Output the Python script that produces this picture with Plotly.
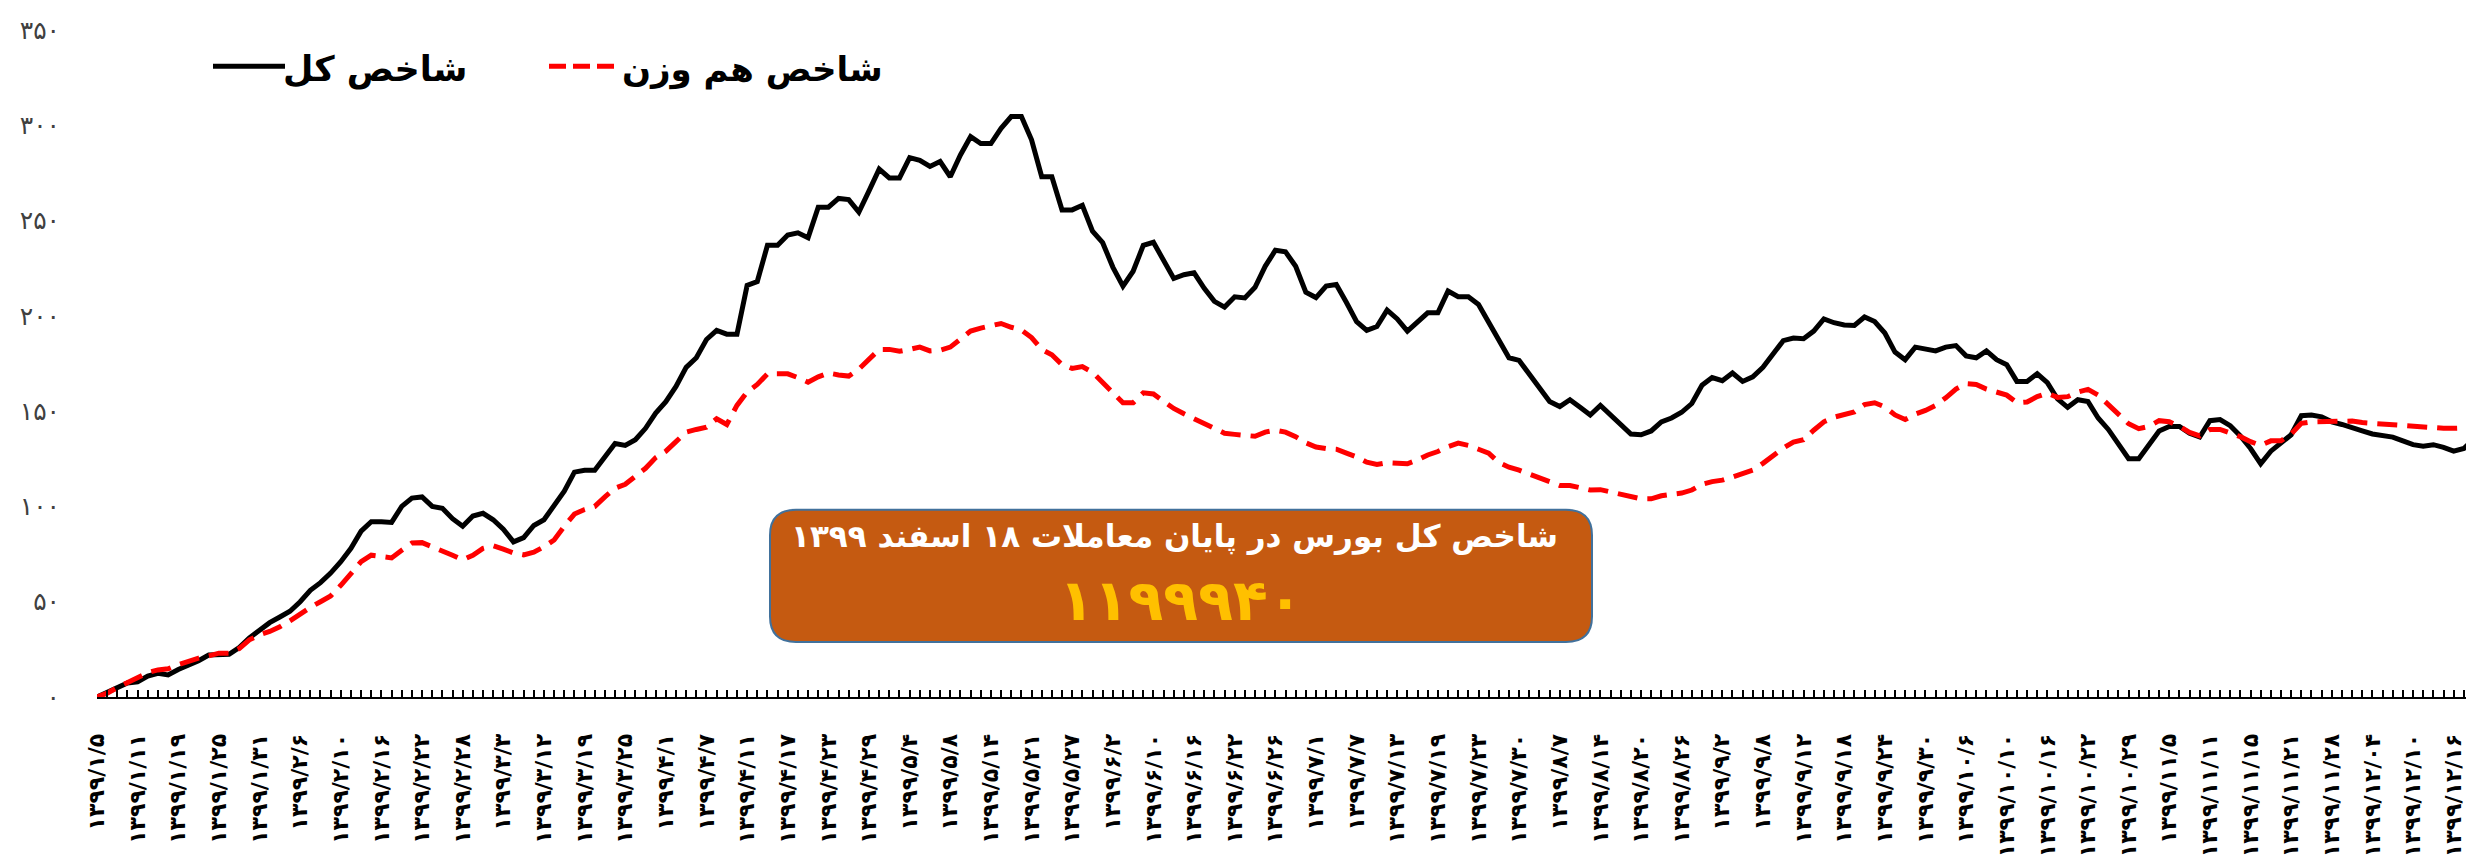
import plotly.graph_objects as go

# ---- data ----
total_index = [
    0, 2.4, 4.4, 7.4, 8, 11, 12.4, 11.6, 14.4, 16.6,
    19, 22, 22, 22.4, 26, 31, 35, 39, 42, 45,
    50, 56, 60, 65, 71, 78, 87, 92, 92, 91.6,
    100, 104.4, 105, 100, 99, 93.6, 89.6, 95, 96.4, 93,
    88, 81.4, 83.6, 90, 93, 101, 108, 118, 119, 119,
    126, 133, 132, 135, 141, 149, 155, 163, 173,
    178, 187.6, 192.4, 190.4, 190.4, 216, 218, 237, 237, 242.4,
    243.6, 241, 257, 257, 261.6, 261, 254.4, 265.6, 277, 272.4,
    272.4, 283, 281.6, 278.4, 281, 273, 284.4, 294, 290.4, 290.4,
    298.4, 304.6, 304.6, 292.4, 273, 273, 255.6, 255.6, 258, 244.4,
    238.4, 225.6, 215.6, 223.4, 237, 238.6, 229.6, 219.6, 221.6, 222.6,
    214.4, 207.6, 204.6, 210, 209.4, 215, 226, 234.4, 233.6,
    226, 212.4, 209.6, 215.6, 216.4, 207, 197, 192.4, 194.4, 203,
    198.4, 192, 197, 201.6, 201.6, 213, 210, 210, 206, 197,
    187, 178, 176.6, 169.6, 162.4, 155, 152.4, 156, 152, 148,
    153, 148, 143.6, 138, 137.6, 139.6, 144.4, 146.4, 149.4, 154,
    163.6, 167.6, 166, 170, 165.6, 168, 173, 179.6, 187, 188.4,
    188, 192, 198.4, 196.4, 195.2, 195, 199.4, 197, 191,
    181, 177, 183.6, 182.4, 181.6, 183.6, 184.4, 179, 178, 181.6,
    177, 174.4, 165.6, 165.6, 169.6, 165, 156.4, 152, 156, 155,
    146.4, 140.4, 132.4, 125, 125, 132, 139.6, 142, 142, 138.4,
    136.4, 145, 145.6, 142.4, 137, 130.4, 122.4, 129, 133, 137.6,
    147.6, 148, 147, 144.4, 143, 141.6, 139.6, 138, 137.4, 136.4,
    134.4, 132.4, 131.6, 132.4, 131, 129, 130.4, 135.6,
]

equal_weight_index = [
    0, 2, 5, 7.4, 10, 12.8, 14.2, 14.8, 17, 19,
    20.4, 21.6, 23, 23, 25.4, 30, 32.6, 34.4, 36.8, 40,
    43.6, 47, 50, 53, 58.6, 65, 71, 74.4, 74, 73,
    77, 80.8, 81, 79, 77, 74.4, 72, 74.4, 78, 79.4,
    77.6, 75.6, 74.6, 76, 78.8, 82.4, 89.6, 96, 98.4, 100,
    105, 109.6, 111.6, 115.6, 120, 125.6, 129, 134, 139,
    140.4, 141.6, 146, 143, 153, 160, 164, 169.6, 169.6, 169.6,
    167.6, 165.2, 168, 170, 169, 168.4, 172, 177, 182.4, 182.4,
    181.4, 182.4, 183.6, 181.6, 182, 183.6, 188, 192, 193.6, 194.6,
    196, 194, 192.6, 188.6, 182.4, 179.6, 174.4, 172.4, 173.4, 170.4,
    165, 159, 154.4, 154.4, 159.6, 159, 155, 151.4, 148.6, 146,
    143.6, 140.8, 138.4, 137.8, 137.4, 136.8, 139, 140, 139,
    136.6, 133.4, 131.2, 130.4, 130, 128, 126, 123.2, 122, 123,
    122.4, 122.4, 124.4, 127, 128.8, 131.4, 133.2, 132, 130, 128,
    123, 120.6, 119, 117, 114.6, 112.8, 111, 111, 110, 108.6,
    108.8, 107.6, 106, 104.8, 104, 104, 105.6, 106.4, 107, 108.6,
    111.6, 113, 113.8, 115.4, 117, 119, 122.6, 126.8, 130.6, 133.8,
    135, 140, 144.4, 146.8, 148, 149.6, 153.4, 154.4, 152.2,
    148, 145.6, 148.4, 150.4, 153, 157, 161.6, 164.4, 164, 161.6,
    160, 158.4, 154.4, 154.8, 157.6, 159.4, 157.2, 157.6, 160, 161.4,
    158.4, 153.6, 148, 143.4, 140.8, 142, 145, 144.4, 142, 138.8,
    137, 140.4, 140.4, 138.8, 136.6, 134, 132, 134.4, 134.4, 138,
    143.6, 144.4, 144.4, 144.8, 145, 144.8, 144, 143.6, 143, 142.4,
    142, 141.6, 141.4, 141.2, 141, 141, 141.2, 141.4,
]

date_labels = [
    "۱۳۹۹/۱/۵", "۱۳۹۹/۱/۱۱", "۱۳۹۹/۱/۱۹", "۱۳۹۹/۱/۲۵", "۱۳۹۹/۱/۳۱",
    "۱۳۹۹/۲/۶", "۱۳۹۹/۲/۱۰", "۱۳۹۹/۲/۱۶", "۱۳۹۹/۲/۲۲", "۱۳۹۹/۲/۲۸",
    "۱۳۹۹/۳/۳", "۱۳۹۹/۳/۱۲", "۱۳۹۹/۳/۱۹", "۱۳۹۹/۳/۲۵", "۱۳۹۹/۴/۱",
    "۱۳۹۹/۴/۷", "۱۳۹۹/۴/۱۱", "۱۳۹۹/۴/۱۷", "۱۳۹۹/۴/۲۳", "۱۳۹۹/۴/۲۹",
    "۱۳۹۹/۵/۴", "۱۳۹۹/۵/۸", "۱۳۹۹/۵/۱۴", "۱۳۹۹/۵/۲۱", "۱۳۹۹/۵/۲۷",
    "۱۳۹۹/۶/۲", "۱۳۹۹/۶/۱۰", "۱۳۹۹/۶/۱۶", "۱۳۹۹/۶/۲۲", "۱۳۹۹/۶/۲۶",
    "۱۳۹۹/۷/۱", "۱۳۹۹/۷/۷", "۱۳۹۹/۷/۱۳", "۱۳۹۹/۷/۱۹", "۱۳۹۹/۷/۲۳",
    "۱۳۹۹/۷/۳۰", "۱۳۹۹/۸/۷", "۱۳۹۹/۸/۱۴", "۱۳۹۹/۸/۲۰", "۱۳۹۹/۸/۲۶",
    "۱۳۹۹/۹/۲", "۱۳۹۹/۹/۸", "۱۳۹۹/۹/۱۲", "۱۳۹۹/۹/۱۸", "۱۳۹۹/۹/۲۴",
    "۱۳۹۹/۹/۳۰", "۱۳۹۹/۱۰/۶", "۱۳۹۹/۱۰/۱۰", "۱۳۹۹/۱۰/۱۶", "۱۳۹۹/۱۰/۲۲",
    "۱۳۹۹/۱۰/۲۹", "۱۳۹۹/۱۱/۵", "۱۳۹۹/۱۱/۱۱", "۱۳۹۹/۱۱/۱۵", "۱۳۹۹/۱۱/۲۱",
    "۱۳۹۹/۱۱/۲۸", "۱۳۹۹/۱۲/۰۴", "۱۳۹۹/۱۲/۱۰", "۱۳۹۹/۱۲/۱۶",
]
label_step = 4

y_tick_values = [0, 50, 100, 150, 200, 250, 300, 350]
y_tick_labels = ["۰", "۵۰", "۱۰۰", "۱۵۰", "۲۰۰", "۲۵۰", "۳۰۰", "۳۵۰"]

name_total = "شاخص کل"
name_equal = "شاخص هم وزن"
box_line1 = "شاخص کل بورس در پایان معاملات ۱۸ اسفند ۱۳۹۹"
box_line2 = "۱۱۹۹۹۴۰"

# ---- layout geometry (pixels) ----
W, H = 2474, 857
L, R, T, B = 89, 8, 17, 160
PW, PH = W - L - R, H - T - B
FONT = "DejaVu Sans"


def px(x):
    return (x - L) / PW


def py(y):
    return (H - B - y) / PH


x_idx = list(range(len(total_index)))
tick_positions = x_idx[::label_step][:len(date_labels)]

fig = go.Figure()
fig.add_trace(go.Scatter(x=x_idx, y=total_index, mode="lines", name=name_total,
                         line=dict(color="#000000", width=5), showlegend=False))
fig.add_trace(go.Scatter(x=x_idx, y=equal_weight_index, mode="lines", name=name_equal,
                         line=dict(color="#FF0000", width=5, dash="20px,10px"), showlegend=False))

shapes = []
annotations = []

# legend (manual, to match the long line samples)
shapes.append(dict(type="line", xref="paper", yref="paper", x0=px(205), x1=px(277), y0=py(54), y1=py(54),
                   line=dict(color="#000000", width=5)))
annotations.append(dict(xref="paper", yref="paper", x=px(273), y=py(57), xanchor="left", yanchor="middle",
                        text=name_total, showarrow=False,
                        font=dict(family=FONT, size=35, color="#000000", weight="bold")))
shapes.append(dict(type="line", xref="paper", yref="paper", x0=px(541), x1=px(606), y0=py(54), y1=py(54),
                   line=dict(color="#FF0000", width=5, dash="17px,7px")))
annotations.append(dict(xref="paper", yref="paper", x=px(612), y=py(57), xanchor="left", yanchor="middle",
                        text=name_equal, showarrow=False,
                        font=dict(family=FONT, size=34, color="#000000", weight="bold")))

# rounded info box
bx0, bx1, by0, by1, rr = 762, 1584, 506, 641, 26
path = (
    f"M {px(bx0 + rr)} {py(by0)} L {px(bx1 - rr)} {py(by0)} "
    f"Q {px(bx1)} {py(by0)} {px(bx1)} {py(by0 + rr)} "
    f"L {px(bx1)} {py(by1 - rr)} Q {px(bx1)} {py(by1)} {px(bx1 - rr)} {py(by1)} "
    f"L {px(bx0 + rr)} {py(by1)} Q {px(bx0)} {py(by1)} {px(bx0)} {py(by1 - rr)} "
    f"L {px(bx0)} {py(by0 + rr)} Q {px(bx0)} {py(by0)} {px(bx0 + rr)} {py(by0)} Z"
)
shapes.append(dict(type="path", xref="paper", yref="paper", path=path,
                   fillcolor="#C55A11", line=dict(color="#41719C", width=2), layer="above"))
annotations.append(dict(xref="paper", yref="paper", x=px(1166), y=py(533), xanchor="center", yanchor="middle",
                        text=box_line1, showarrow=False,
                        font=dict(family=FONT, size=31, color="#FFFFFF", weight="bold")))
annotations.append(dict(xref="paper", yref="paper", x=px(1173), y=py(598), xanchor="center", yanchor="middle",
                        text=box_line2, showarrow=False,
                        font=dict(family=FONT, size=57, color="#FFC000", weight="bold")))

fig.update_layout(
    width=W, height=H,
    margin=dict(l=L, r=R, t=T, b=B, pad=0),
    paper_bgcolor="#FFFFFF", plot_bgcolor="#FFFFFF",
    showlegend=False,
    shapes=shapes, annotations=annotations,
    xaxis=dict(
        range=[0, len(total_index) - 1],
        showgrid=False, zeroline=False,
        showline=True, linecolor="#000000", linewidth=2,
        tickmode="array", tickvals=tick_positions, ticktext=date_labels,
        ticks="inside", ticklen=7, tickwidth=1.5, tickcolor="#000000",
        minor=dict(tickmode="linear", tick0=0, dtick=1, ticks="inside", ticklen=7,
                   tickwidth=1.5, tickcolor="#000000", showgrid=False),
        tickangle=-90,
        tickfont=dict(family=FONT, size=22, color="#000000", weight="bold"),
        ticklabelstandoff=26,
    ),
    yaxis=dict(
        range=[0, 350],
        showgrid=False, zeroline=False, showline=False,
        tickmode="array", tickvals=y_tick_values, ticktext=y_tick_labels,
        ticks="",
        tickfont=dict(family=FONT, size=25, color="#404040"),
        ticklabelstandoff=36,
    ),
)

fig.write_html("out.html")
